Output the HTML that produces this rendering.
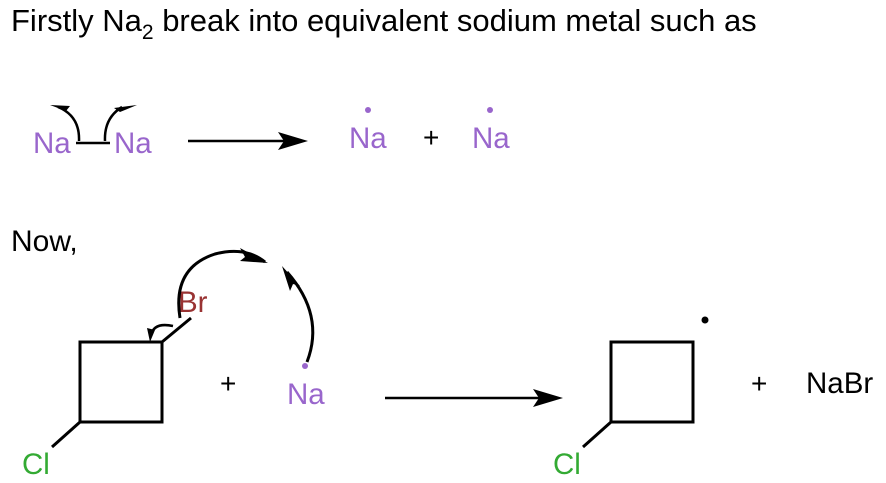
<!DOCTYPE html>
<html><head><meta charset="utf-8"><style>
html,body{margin:0;padding:0;background:#fff;}
svg{display:block;font-family:"Liberation Sans",Arial,sans-serif;}
</style></head><body>
<svg width="886" height="483" viewBox="0 0 886 483" xmlns="http://www.w3.org/2000/svg">
<rect width="886" height="483" fill="#fff"/>
<text x="11" y="31" font-size="31" fill="#000">Firstly Na<tspan font-size="21" dy="8">2</tspan><tspan dy="-8"> break into equivalent sodium metal such as</tspan></text>

<g fill="#9966cc" font-size="29.5">
<text x="33" y="153">Na</text>
<text x="114" y="153">Na</text>
<text x="349" y="148">Na</text>
<text x="472" y="148">Na</text>
<text x="287" y="404">Na</text>
</g>
<line x1="76" y1="143" x2="110" y2="143" stroke="#000" stroke-width="2.5"/>
<path d="M79 141 Q80 116 58 107" fill="none" stroke="#000" stroke-width="2.5"/>
<path d="M50 105 L70 106 L66 111 Z" fill="#000"/>
<path d="M105 141 Q104 118 122 107" fill="none" stroke="#000" stroke-width="2.5"/>
<path d="M137 105 L114 108 L120 112 Z" fill="#000"/>
<line x1="188" y1="141" x2="290" y2="141" stroke="#000" stroke-width="2.5"/>
<path d="M308 141 L278 132 L284 141 L278 150 Z" fill="#000"/>
<circle cx="368" cy="110" r="3" fill="#9966cc"/>
<circle cx="490" cy="110" r="3" fill="#9966cc"/>
<text x="423" y="147" font-size="28">+</text>

<text x="11" y="251" font-size="30">Now,</text>

<rect x="80" y="342" width="82" height="80" fill="none" stroke="#000" stroke-width="3"/>
<line x1="80" y1="422" x2="52" y2="447" stroke="#000" stroke-width="3"/>
<line x1="162" y1="342" x2="191" y2="318" stroke="#000" stroke-width="3"/>
<text x="22" y="474" font-size="29.5" fill="#33aa33">Cl</text>
<text x="553" y="474" font-size="29.5" fill="#33aa33">Cl</text>
<text x="178" y="312" font-size="29.5" fill="#993333">Br</text>
<path d="M151 335 Q154 322 173 326" fill="none" stroke="#000" stroke-width="2.5"/>
<path d="M150 342 L147 328 L155 330 Z" fill="#000"/>
<path d="M180 318 Q172 268 215 254 Q245 246 265 262" fill="none" stroke="#000" stroke-width="3"/>
<path d="M268 263 L240 248 L245 257 L240 261 Z" fill="#000"/>
<path d="M307 362 Q325 315 287 272" fill="none" stroke="#000" stroke-width="3"/>
<path d="M282 266 L300 286 L293 284 L290 291 Z" fill="#000"/>
<circle cx="305" cy="366" r="3" fill="#9966cc"/>
<text x="220" y="393" font-size="28">+</text>

<line x1="385" y1="398" x2="545" y2="398" stroke="#000" stroke-width="2.5"/>
<path d="M563 398 L533 389 L539 398 L533 407 Z" fill="#000"/>

<rect x="611" y="342" width="82" height="80" fill="none" stroke="#000" stroke-width="3"/>
<line x1="611" y1="422" x2="583" y2="447" stroke="#000" stroke-width="3"/>
<circle cx="705" cy="320" r="3.5" fill="#000"/>
<text x="751" y="393" font-size="28">+</text>
<text x="806" y="393" font-size="29.5">NaBr</text>
</svg>
</body></html>
